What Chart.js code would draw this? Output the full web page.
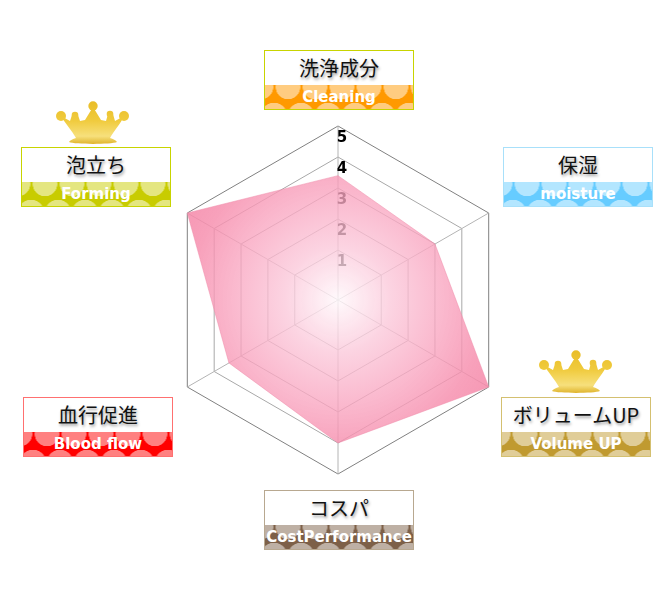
<!DOCTYPE html>
<html>
<head>
<meta charset="utf-8">
<script src="https://cdn.jsdelivr.net/npm/chart.js@4"></script>
<style>
html,body{margin:0;padding:0;background:#fff;}
#wrap{position:relative;width:670px;height:600px;overflow:hidden;}
#radar{position:absolute;left:0;top:0;}
.box{position:absolute;width:148px;height:58px;border:1px solid;background:#fff;}
.jp{height:34px;line-height:33px;text-align:center;font-family:"Noto Sans CJK JP";font-size:20px;color:#111;text-shadow:1px 2px 3px rgba(0,0,0,.4);white-space:nowrap;}
.en{height:24px;line-height:25px;text-align:center;font-family:"DejaVu Sans";font-weight:bold;font-size:15px;color:#fff;white-space:nowrap;overflow:hidden;
  background-image:
    radial-gradient(circle at 13.5px 2px,rgba(255,255,255,.5) 12px,transparent 12.5px),
    radial-gradient(circle at 13.5px 31px,rgba(255,255,255,.5) 13px,transparent 13.5px);
  background-size:27px 24px;background-position:9.5px 0,-4.5px 0;}
.crown{position:absolute;width:74px;height:44px;}
</style>
</head>
<body>
<div id="wrap">
<canvas id="radar" width="670" height="600"></canvas>
<svg width="0" height="0" style="position:absolute">
  <defs>
    <linearGradient id="gold" gradientUnits="userSpaceOnUse" x1="0" y1="0" x2="0" y2="44">
      <stop offset="0" stop-color="#e9bd28"/>
      <stop offset=".45" stop-color="#f0cb3e"/>
      <stop offset=".8" stop-color="#f7e07c"/>
      <stop offset="1" stop-color="#dcae22"/>
    </linearGradient>
    <symbol id="crownShape" viewBox="0 0 74 44">
      <g fill="url(#gold)">
        <path d="M5 15 L14 20 L16 14 L22 14 L24 20 L29 19 L37 6 L45 19 L50 20 L52 13 L57 13 L59 20 L68 15 C65 22 58 30 54 37 C57 38 60 39 61 41 C55 43.500 19 43.500 13 41 C14 39 17 38 20 37 C16 30 9 22 5 15 Z"/>
        <circle cx="37" cy="5" r="4.700"/>
        <circle cx="19" cy="14" r="3.300"/>
        <circle cx="54" cy="13" r="3.300"/>
        <circle cx="5" cy="15" r="5"/>
        <circle cx="68" cy="15" r="5"/>
      </g>
    </symbol>
  </defs>
</svg>
<svg class="crown" style="left:56px;top:101px"><use href="#crownShape"/></svg>
<svg class="crown" style="left:539px;top:350px"><use href="#crownShape"/></svg>
</div>
<script>
var categories=["洗浄成分","保湿","ボリュームUP","コスパ","血行促進","泡立ち"];
var englishLabels=["Cleaning","moisture","Volume UP","CostPerformance","Blood flow","Forming"];
var scores=[3.4,3,5,4,3.45,5];
var tickValues=[1,2,3,4,5];

// label boxes, same order as categories
var boxLeft=[264,503,501,264,23,21];
var boxTop=[50,147,397,490,397,147];
var boxColor=["#ff9900","#66ccff","#c09a30","#7d6048","#ff0000","#c8cc00"];
var boxLine=["#c8d400","#a8e0fa","#d4c070","#b8a890","#ff7070","#c8d400"];

var wrap=document.getElementById("wrap");
for(var i=0;i<categories.length;i++)
{
    var box=document.createElement("div");
    box.className="box";
    box.style.left=boxLeft[i]+"px";
    box.style.top=boxTop[i]+"px";
    box.style.borderColor=boxLine[i];
    var jp=document.createElement("div");
    jp.className="jp";
    jp.textContent=categories[i];
    var en=document.createElement("div");
    en.className="en";
    en.textContent=englishLabels[i];
    en.style.backgroundColor=boxColor[i];
    box.appendChild(jp);
    box.appendChild(en);
    wrap.appendChild(box);
}

// tick numbers sit a little under their ring and get covered by the fill
var tickNumbers={
    id:"tickNumbers",
    beforeDatasetsDraw:function(chart){
        var scale=chart.scales.r;
        var ctx=chart.ctx;
        ctx.save();
        ctx.font="bold 15px 'DejaVu Sans'";
        ctx.fillStyle="#000";
        ctx.textAlign="center";
        ctx.textBaseline="middle";
        for(var i=0;i<tickValues.length;i++)
        {
            var d=scale.getDistanceFromCenterForValue(tickValues[i]);
            ctx.fillText(String(tickValues[i]),scale.xCenter+4,scale.yCenter-d+12);
        }
        ctx.restore();
    }
};

function fillGradient(context){
    var scale=context.chart.scales.r;
    if(!scale||!scale.drawingArea) return "rgba(244,130,165,.8)";
    var g=context.chart.ctx.createRadialGradient(scale.xCenter,scale.yCenter,0,scale.xCenter,scale.yCenter,scale.drawingArea);
    g.addColorStop(0,"rgba(255,248,251,.8)");
    g.addColorStop(.3,"rgba(251,200,218,.78)");
    g.addColorStop(.6,"rgba(249,165,192,.78)");
    g.addColorStop(.85,"rgba(246,140,172,.82)");
    g.addColorStop(1,"rgba(245,135,168,.85)");
    return g;
}

new Chart(document.getElementById("radar").getContext("2d"),{
    type:"radar",
    data:{
        labels:categories,
        datasets:[{
            data:scores,
            backgroundColor:fillGradient,
            borderColor:"rgba(240,140,170,.5)",
            borderWidth:1,
            pointRadius:0,
            tension:0,
            fill:"start"
        }]
    },
    options:{
        responsive:false,
        animation:false,
        layout:{padding:{left:164,right:158,top:126,bottom:126}},
        plugins:{legend:{display:false},tooltip:{enabled:false}},
        scales:{
            r:{
                min:-0.61,
                max:5,
                afterBuildTicks:function(axis){
                    axis.ticks=tickValues.map(function(v){return {value:v};});
                },
                ticks:{display:false},
                pointLabels:{display:false},
                angleLines:{color:"#b4b4b4",lineWidth:1},
                grid:{
                    lineWidth:1,
                    color:function(c){return c.tick&&c.tick.value==5?"#808080":"#a8a8a8";}
                }
            }
        }
    },
    plugins:[tickNumbers]
});
</script>
</body>
</html>
